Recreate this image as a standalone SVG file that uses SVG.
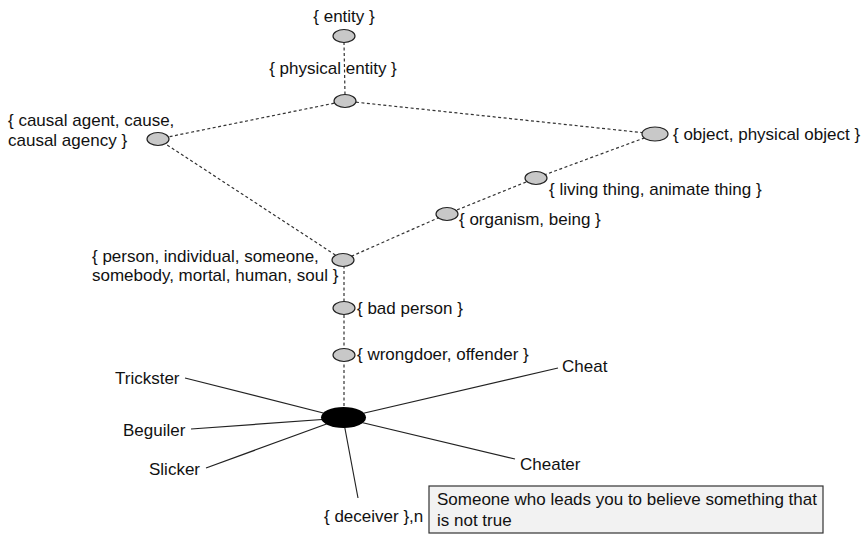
<svg xmlns="http://www.w3.org/2000/svg" width="863" height="534" viewBox="0 0 863 534">
<style>
text{font-family:"Liberation Sans",Arial,sans-serif;font-size:17px;fill:#111}
.n{fill:#c8c8c8;stroke:#222;stroke-width:1.2}
.d{stroke:#333;stroke-width:1.2;stroke-dasharray:3,2.5;fill:none}
.s{stroke:#222;stroke-width:1.2;fill:none}
</style>
<rect width="863" height="534" fill="#fff"/>
<g id="connectors">
<line class="d" x1="344" y1="42" x2="345" y2="95"/>
<line class="d" x1="345" y1="101" x2="158" y2="139"/>
<line class="d" x1="345" y1="101" x2="655" y2="134"/>
<line class="d" x1="158" y1="139" x2="343" y2="260"/>
<polyline class="d" points="655,134 536,178 447,214 343,260"/>
<line class="d" x1="344" y1="260" x2="344" y2="418"/>
<line class="s" x1="343" y1="418" x2="185" y2="378"/>
<line class="s" x1="343" y1="418" x2="558" y2="368"/>
<line class="s" x1="343" y1="418" x2="191" y2="429"/>
<line class="s" x1="343" y1="418" x2="206" y2="468"/>
<line class="s" x1="343" y1="418" x2="515" y2="459"/>
<line class="s" x1="343" y1="418" x2="358" y2="498"/>
</g>
<g id="entity"><ellipse class="n" cx="344" cy="36" rx="11" ry="6.5"/><text x="344" y="22" text-anchor="middle">{ entity }</text></g>
<g id="physical-entity"><ellipse class="n" cx="345" cy="101" rx="11" ry="6.5"/><text x="333" y="74" text-anchor="middle">{ physical entity }</text></g>
<g id="causal-agent"><ellipse class="n" cx="158" cy="139" rx="11" ry="6.5"/><text x="8" y="126">{ causal agent, cause,</text><text x="8" y="146">causal agency }</text></g>
<g id="object"><ellipse class="n" cx="655" cy="134" rx="13" ry="7"/><text x="673" y="140">{ object, physical object }</text></g>
<g id="living-thing"><ellipse class="n" cx="536" cy="178" rx="11" ry="6.5"/><text x="549" y="195">{ living thing, animate thing }</text></g>
<g id="organism"><ellipse class="n" cx="447" cy="214" rx="11" ry="6.5"/><text x="459" y="225">{ organism, being }</text></g>
<g id="person"><ellipse class="n" cx="343" cy="260" rx="11" ry="6.5"/><text x="92" y="262">{ person, individual, someone,</text><text x="92" y="281">somebody, mortal, human, soul }</text></g>
<g id="bad-person"><ellipse class="n" cx="344" cy="308" rx="11" ry="6.5"/><text x="357" y="314">{ bad person }</text></g>
<g id="wrongdoer"><ellipse class="n" cx="344" cy="355" rx="11" ry="6.5"/><text x="357" y="360">{ wrongdoer, offender }</text></g>
<g id="deceiver"><ellipse cx="343.5" cy="417.5" rx="22.5" ry="10.5" fill="#000"/><text x="324" y="522">{ deceiver },n</text></g>
<g id="trickster"><text x="115" y="384">Trickster</text></g>
<g id="cheat"><text x="562" y="372">Cheat</text></g>
<g id="beguiler"><text x="123" y="436">Beguiler</text></g>
<g id="slicker"><text x="149" y="475">Slicker</text></g>
<g id="cheater"><text x="520" y="470">Cheater</text></g>
<g id="gloss"><rect x="429" y="486" width="394" height="47" fill="#f2f2f2" stroke="#333" stroke-width="1.2"/><text x="437" y="505">Someone who leads you to believe something that</text><text x="437" y="526">is not true</text></g>
</svg>
